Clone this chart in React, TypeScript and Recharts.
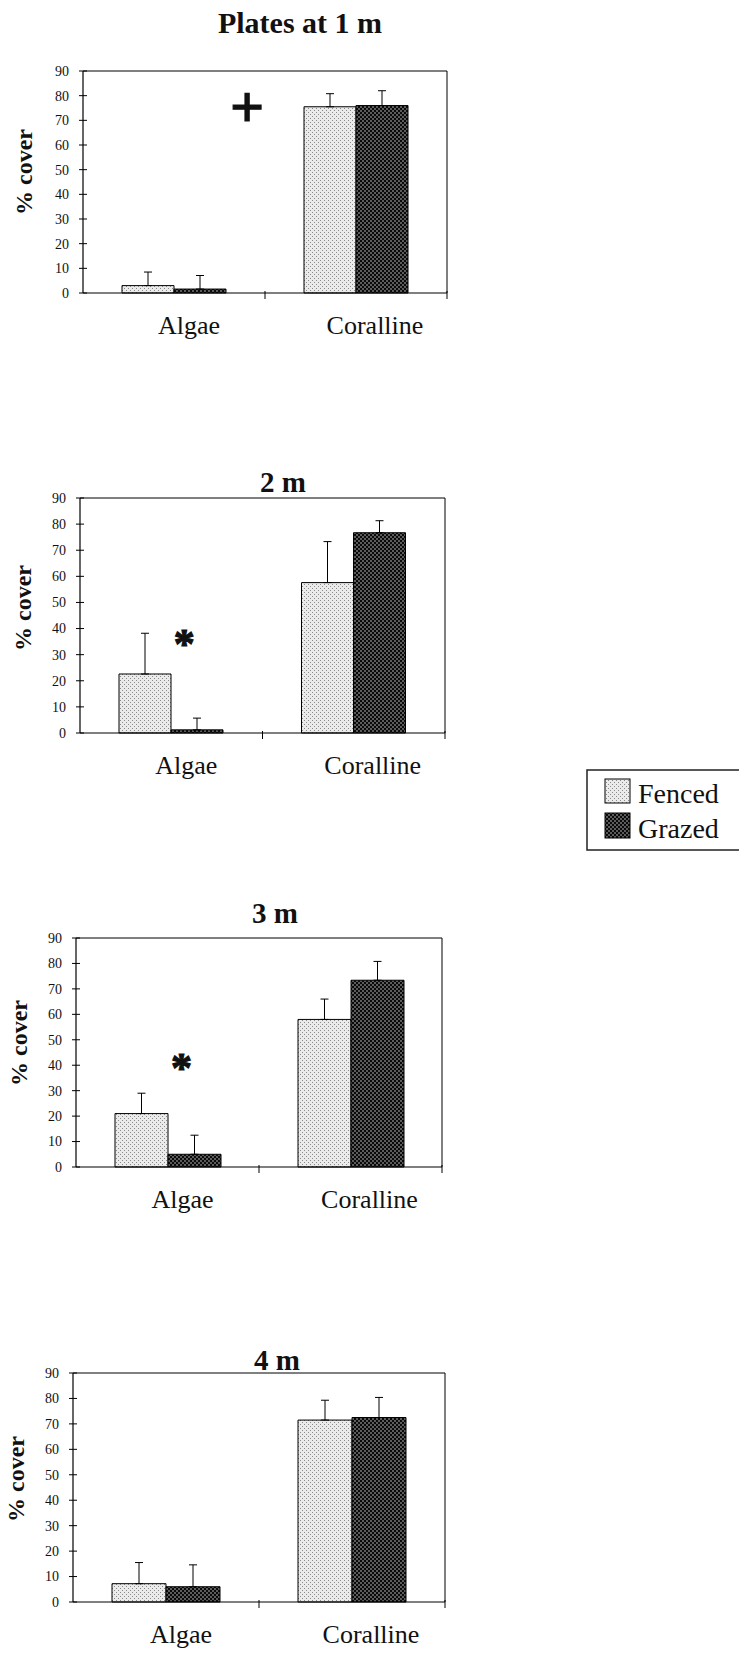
import React from 'react';
import { BarChart, Bar, XAxis, YAxis, ErrorBar, ReferenceDot } from 'recharts';

// ---------- data ----------
const categories = ['Algae', 'Coralline'];
const seriesNames = ['Fenced', 'Grazed'];
const yTicks = [0, 10, 20, 30, 40, 50, 60, 70, 80, 90];
const panelTitles = ['Plates at 1 m', '2 m', '3 m', '4 m'];

const fenced1 = [3, 75.5];
const fencedErr1 = [5.5, 5.3];
const grazed1 = [1.6, 76];
const grazedErr1 = [5.5, 6];

const fenced2 = [22.6, 57.6];
const fencedErr2 = [15.6, 15.7];
const grazed2 = [1.2, 76.7];
const grazedErr2 = [4.5, 4.6];

const fenced3 = [21, 58];
const fencedErr3 = [8, 8];
const grazed3 = [5, 73.4];
const grazedErr3 = [7.5, 7.4];

const fenced4 = [7.2, 71.5];
const fencedErr4 = [8.3, 7.8];
const grazed4 = [6, 72.5];
const grazedErr4 = [8.6, 7.9];

const markSymbols = ['+', '*', '*', ''];
const markValues = [73.5, 36.5, 41.4, 0];

const fencedAll = [fenced1, fenced2, fenced3, fenced4];
const fencedErrAll = [fencedErr1, fencedErr2, fencedErr3, fencedErr4];
const grazedAll = [grazed1, grazed2, grazed3, grazed4];
const grazedErrAll = [grazedErr1, grazedErr2, grazedErr3, grazedErr4];

// ---------- layout ----------
const SERIF = "'Liberation Serif', 'Times New Roman', serif";
const CHART_W = 460;
const X_AXIS_H = 50;
const panels = [
  { top: 0, left: 83, plotTop: 71, right: 447, bottom: 293, titleX: 300, titleY: 33, titleFs: 30, labelX: 24, labelY: 172, markDx: 73 },
  { top: 460, left: 80, plotTop: 38, right: 445, bottom: 273, titleX: 283, titleY: 492, titleFs: 29, labelX: 23, labelY: 608, markDx: 13 },
  { top: 890, left: 76, plotTop: 48, right: 442, bottom: 277, titleX: 275, titleY: 923, titleFs: 29, labelX: 19, labelY: 1043, markDx: 14 },
  { top: 1320, left: 73, plotTop: 53, right: 445, bottom: 282, titleX: 277, titleY: 1370, titleFs: 29, labelX: 16, labelY: 1479, markDx: 0 },
];
const labelDx = [15, 19];

const YTick = (props: any) => {
  const { x, y, payload } = props;
  return (
    <g>
      <line x1={x - 4} x2={x + 4} y1={y} y2={y} stroke="#000" strokeWidth={1} />
      <text x={x - 14} y={y} dy="0.35em" textAnchor="end" fontFamily={SERIF} fontSize={14} fill="#111">
        {payload.value}
      </text>
    </g>
  );
};

const XTick = (props: any) => {
  const { x, y, payload, index, band } = props;
  return (
    <g>
      <line x1={x + band / 2} x2={x + band / 2} y1={y - 2} y2={y + 6} stroke="#000" strokeWidth={1} />
      <text x={x + labelDx[index]} y={y + 41} textAnchor="middle" fontFamily={SERIF} fontSize={26} fill="#111">
        {payload.value}
      </text>
    </g>
  );
};

const Panel = ({ i }: { i: number }) => {
  const p = panels[i];
  const height = p.bottom + X_AXIS_H;
  const band = (p.right - p.left) / categories.length;
  const rows = categories.map((cat, k) => ({
    cat,
    fenced: fencedAll[i][k],
    grazed: grazedAll[i][k],
    fencedErr: [0, fencedErrAll[i][k]],
    grazedErr: [0, grazedErrAll[i][k]],
  }));
  const sym = markSymbols[i];
  const fs = sym === '+' ? 60 : 42;
  const lift = sym === '+' ? 0.256 : 0.48;
  return (
    <div style={{ position: 'absolute', left: 0, top: p.top }}>
      <BarChart
        width={CHART_W}
        height={height}
        data={rows}
        margin={{ top: p.plotTop - 1, right: CHART_W - p.right - 1, bottom: 0, left: 0 }}
        barCategoryGap={39}
        barGap={0}
      >
        <XAxis
          dataKey="cat"
          height={X_AXIS_H}
          axisLine={{ stroke: '#000', strokeWidth: 1.2 }}
          tickLine={false}
          tickSize={0}
          tickMargin={0}
          interval={0}
          tick={(tp: any) => <XTick {...tp} band={band} />}
        />
        <XAxis xAxisId="top" orientation="top" dataKey="cat" height={1} tick={false} tickLine={false} axisLine={{ stroke: '#000', strokeWidth: 1 }} />
        <YAxis
          width={p.left}
          domain={[0, 90]}
          ticks={yTicks}
          interval={0}
          axisLine={{ stroke: '#000', strokeWidth: 1.2 }}
          tickLine={false}
          tickSize={0}
          tickMargin={0}
          tick={(tp: any) => <YTick {...tp} />}
        />
        <YAxis yAxisId="right" orientation="right" width={1} domain={[0, 90]} tick={false} tickLine={false} axisLine={{ stroke: '#000', strokeWidth: 1 }} />
        <Bar dataKey="fenced" name={seriesNames[0]} fill="url(#patFenced)" stroke="#000" strokeWidth={1} isAnimationActive={false}>
          <ErrorBar dataKey="fencedErr" direction="y" width={4} stroke="#000" strokeWidth={1} />
        </Bar>
        <Bar dataKey="grazed" name={seriesNames[1]} fill="url(#patGrazed)" stroke="#000" strokeWidth={1} isAnimationActive={false}>
          <ErrorBar dataKey="grazedErr" direction="y" width={4} stroke="#000" strokeWidth={1} />
        </Bar>
        {sym ? (
          <ReferenceDot
            x={categories[0]}
            y={markValues[i]}
            r={2}
            fill="none"
            stroke="none"
            label={{
              content: (lp: any) => {
                const vb = lp.viewBox || {};
                const cx = (vb.x ?? 0) + (vb.width ?? 0) / 2 + p.markDx;
                const cy = (vb.y ?? 0) + (vb.height ?? 0) / 2;
                return (
                  <text
                    x={cx}
                    y={cy + lift * fs}
                    textAnchor="middle"
                    fontFamily={SERIF}
                    fontWeight="bold"
                    fontSize={fs}
                    fill="#111"
                    stroke="#111"
                    strokeWidth={1.2}
                  >
                    {sym}
                  </text>
                );
              },
            }}
          />
        ) : null}
      </BarChart>
    </div>
  );
};

export default function App() {
  return (
    <div style={{ position: 'absolute', left: 0, top: 0, width: 739, height: 1653, background: '#fff', overflow: 'hidden' }}>
      {panels.map((_, i) => (
        <Panel key={i} i={i} />
      ))}
      <svg width={739} height={1653} style={{ position: 'absolute', left: 0, top: 0, pointerEvents: 'none' }}>
        <defs>
          <pattern id="patFenced" width={4} height={4} patternUnits="userSpaceOnUse">
            <rect width={4} height={4} fill="#ebebeb" />
            <rect x={0} y={0} width={1} height={1} fill="#8a8a8a" />
            <rect x={2} y={2} width={1} height={1} fill="#8a8a8a" />
          </pattern>
          <pattern id="patGrazed" width={4} height={4} patternUnits="userSpaceOnUse">
            <rect width={4} height={4} fill="#5c5c5c" />
            <rect x={0} y={0} width={2} height={2} fill="#0a0a0a" />
            <rect x={2} y={2} width={2} height={2} fill="#0a0a0a" />
          </pattern>
        </defs>
        {panels.map((p, i) => (
          <g key={i}>
            <text x={p.titleX} y={p.titleY} textAnchor="middle" fontFamily={SERIF} fontWeight="bold" fontSize={p.titleFs} fill="#111">
              {panelTitles[i]}
            </text>
            <text
              x={p.labelX}
              y={p.labelY}
              transform={`rotate(-90 ${p.labelX} ${p.labelY})`}
              textAnchor="middle"
              dominantBaseline="central"
              fontFamily={SERIF}
              fontWeight="bold"
              fontSize={24}
              fill="#111"
            >
              % cover
            </text>
          </g>
        ))}
        <path d="M739 770 H587 V850 H739" fill="none" stroke="#222" strokeWidth={1.5} />
        <rect x={605} y={779} width={25} height={24} fill="url(#patFenced)" stroke="#000" strokeWidth={1} />
        <text x={638} y={803} fontFamily={SERIF} fontSize={28} fill="#111">{seriesNames[0]}</text>
        <rect x={605} y={813} width={25} height={25} fill="url(#patGrazed)" stroke="#000" strokeWidth={1} />
        <text x={638} y={838} fontFamily={SERIF} fontSize={28} fill="#111">{seriesNames[1]}</text>
      </svg>
    </div>
  );
}
